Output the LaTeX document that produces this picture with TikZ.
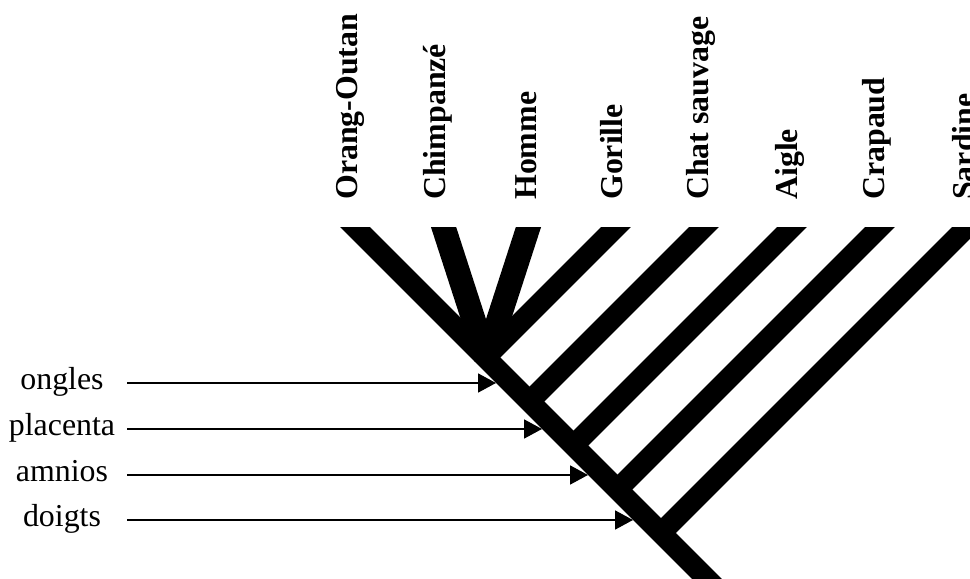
\documentclass[tikz,border=0pt]{standalone}
\usepackage{fontspec}
\setmainfont{Liberation Serif}
\usetikzlibrary{arrows.meta}

\begin{document}
\begin{tikzpicture}[x=1bp,y=-1bp]
    \tikzstyle{taxon}=[rotate=90,anchor=west,inner sep=0pt,font=\fontsize{32}{36}\selectfont\bfseries]
    \tikzstyle{trait}=[anchor=base,inner sep=0pt,font=\fontsize{32}{36}\selectfont]
    \tikzstyle{branch}=[line width=21bp]
    \tikzstyle{trait arrow}=[line width=1.8bp,-{Triangle[length=18bp,width=19bp]}]

    \useasboundingbox (0,0) rectangle (970,579);
    \clip (0,0) rectangle (970,579);

    % taxa names
    \foreach \x/\name [count=\i] in {350/Orang-Outan, 438/Chimpanzé, 526/Homme, 612/Gorille,
      701/Chat sauvage, 790/Aigle, 877/Crapaud, 964/Sardine}
    \node[taxon] (L-\i) at (\x,200) {\name};

    % the tree
    \begin{scope}
    \clip (0,228) rectangle (970,579);
    % trunk, from the orang-outan down
    \draw[branch] (341,213) -- (725,597);
    % chimpanzee and man
    \draw[branch,line width=24bp] (439,213) -- (486,358);
    \draw[branch,line width=24bp] (533,213) -- (486,358);
    % the other taxa join the trunk
    \foreach \cx in {615,703,791,879,966}
    \draw[branch] (\cx+15,213) -- ({(\cx+356)/2},{(\cx+100)/2});
    \end{scope}

    % characters
    \foreach \name/\y [count=\i] in {ongles/383,placenta/429,amnios/475,doigts/520}
    {
    \node[trait] (C-\i) at (62,\y+6) {\name};
    \coordinate (S-\i) at (127,\y);
    \coordinate (E-\i) at (\y+113,\y);
    \draw[trait arrow] (S-\i) -- (E-\i);
    }
\end{tikzpicture}
\end{document}
